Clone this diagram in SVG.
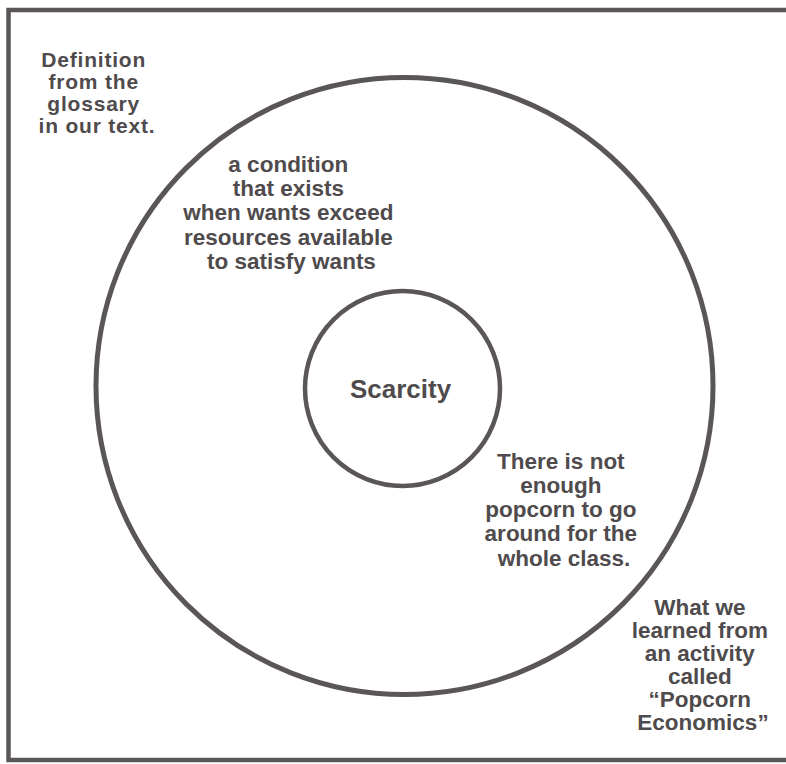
<svg xmlns="http://www.w3.org/2000/svg" width="786" height="764" viewBox="0 0 786 764">
  <style>
    .frame { fill: none; stroke: #5a5658; stroke-width: 4.5; }
    .ring { fill: none; stroke: #5a5658; }
    .lbl { font-family: "Liberation Sans", Arial, Helvetica, sans-serif; font-weight: bold; font-size: 22.5px; fill: #4f4b4d; text-anchor: middle; }
    .small { font-size: 21px; letter-spacing: 0.8px; }
    .title { font-size: 26px; }
  </style>
  <rect width="786" height="764" fill="#ffffff"/>
  <rect class="frame" x="8.5" y="10" width="800" height="750"/>
  <g id="outer-ring">
    <circle class="ring" cx="404.5" cy="386" r="308.5" stroke-width="5"/>
  </g>
  <g id="center">
    <circle class="ring" cx="402.5" cy="388.5" r="97.5" stroke-width="4.5"/>
    <text class="lbl title" x="400.5" y="398">Scarcity</text>
  </g>
  <g id="definition-label">
    <text class="lbl small" x="97">
      <tspan x="97" y="66.5">Definition</tspan>
      <tspan x="97" y="88.5">from the</tspan>
      <tspan x="97" y="110.5">glossary</tspan>
      <tspan x="97" y="132.5">in our text.</tspan>
    </text>
  </g>
  <g id="definition">
    <text class="lbl" x="291.5">
      <tspan x="291.5" y="172">a condition</tspan>
      <tspan x="291.5" y="196.2">that exists</tspan>
      <tspan x="291.5" y="220.4">when wants exceed</tspan>
      <tspan x="291.5" y="244.6">resources available</tspan>
      <tspan x="291.5" y="268.8">to satisfy wants</tspan>
    </text>
  </g>
  <g id="activity">
    <text class="lbl" x="564">
      <tspan x="564" y="468.5">There is not</tspan>
      <tspan x="564" y="492.8">enough</tspan>
      <tspan x="564" y="517.1">popcorn to go</tspan>
      <tspan x="564" y="541.4">around for the</tspan>
      <tspan x="564" y="565.7">whole class.</tspan>
    </text>
  </g>
  <g id="activity-label">
    <text class="lbl" x="703">
      <tspan x="703" y="615">What we</tspan>
      <tspan x="703" y="638">learned from</tspan>
      <tspan x="703" y="661">an activity</tspan>
      <tspan x="703" y="684">called</tspan>
      <tspan x="703" y="707">“Popcorn</tspan>
      <tspan x="703" y="730">Economics”</tspan>
    </text>
  </g>
  <g id="connectors"></g>
</svg>
